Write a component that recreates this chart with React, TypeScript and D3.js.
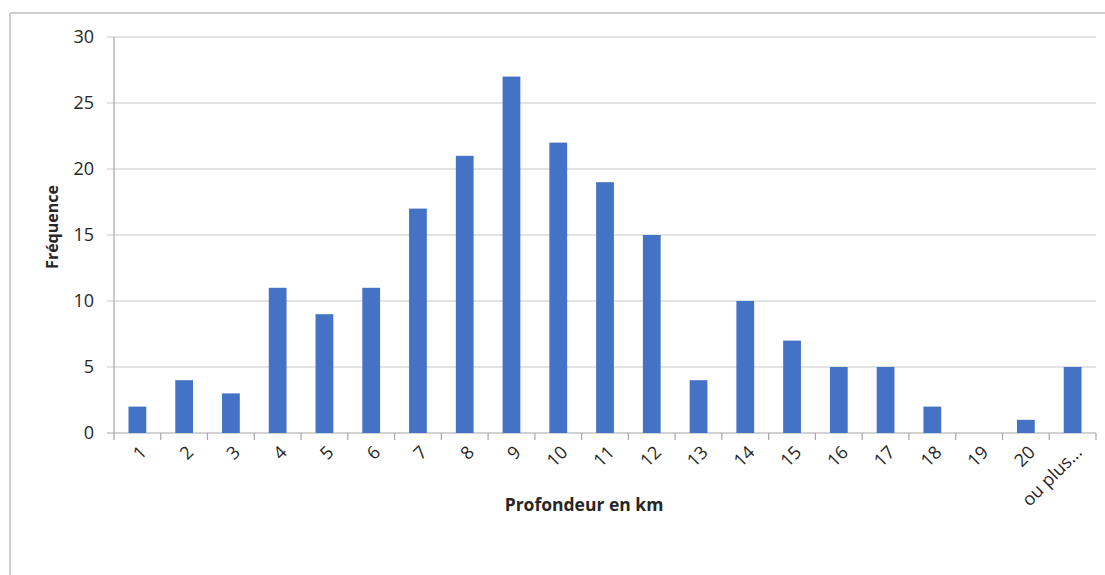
import React from "react";
import * as d3 from "d3";

const categories = ["1","2","3","4","5","6","7","8","9","10","11","12","13","14","15","16","17","18","19","20","ou plus..."];
const frequencies = [2,4,3,11,9,11,17,21,27,22,19,15,4,10,7,5,5,2,0,1,5];
const yTicks = [0,5,10,15,20,25,30];

export default function App() {
  const W = 1105, H = 575;
  const left = 114, right = 1096, top = 37, bottom = 433;
  const x = d3.scaleBand<string>().domain(categories).range([left, right]).paddingInner(0.62).paddingOuter(0.31);
  const xb = d3.scaleBand<string>().domain(categories).range([left, right]);
  const y = d3.scaleLinear().domain([0, 30]).range([bottom, top]);
  const font = "'Open Sans', 'Liberation Sans', sans-serif";
  return (
    <svg width={W} height={H} style={{ position: "absolute", left: 0, top: 0, background: "#fff" }}>
      <line x1={10} y1={13} x2={W} y2={13} stroke="#bfbfbf" strokeWidth={1.5} />
      <line x1={10} y1={13} x2={10} y2={H} stroke="#bfbfbf" strokeWidth={1.5} />
      {yTicks.map(t => (
        <g key={t}>
          <line x1={left - 7} x2={right} y1={y(t)} y2={y(t)} stroke={t === 0 ? "#a6a6a6" : "#c8c8c8"} strokeWidth={1.2} />
          <text x={94} y={y(t)} dy="0.35em" textAnchor="end" fontFamily={font} fontSize={18} fill="#262626">{t}</text>
        </g>
      ))}
      <line x1={left} x2={left} y1={top} y2={bottom} stroke="#a6a6a6" strokeWidth={1.2} />
      {categories.map((c, i) => (
        <line key={"tk" + i} x1={xb(c)! + xb.bandwidth()} x2={xb(c)! + xb.bandwidth()} y1={bottom} y2={bottom + 7} stroke="#a6a6a6" strokeWidth={1.2} />
      ))}
      <line x1={left} x2={left} y1={bottom} y2={bottom + 7} stroke="#a6a6a6" strokeWidth={1.2} />
      {categories.map((c, i) => (
        <rect key={"b" + i} x={x(c)} y={y(frequencies[i])} width={x.bandwidth()} height={bottom - y(frequencies[i])} fill="#4472C4" />
      ))}
      {categories.map((c, i) => {
        const cx = xb(c)! + xb.bandwidth() / 2 + 6;
        const cy = bottom + 16;
        return (
          <text key={"l" + i} x={cx} y={cy} transform={`rotate(-45 ${cx} ${cy})`} textAnchor="end" dy="0.35em" fontFamily={font} fontSize={18} fill="#262626">{c}</text>
        );
      })}
      <text x={584} y={511} textAnchor="middle" fontFamily={font} fontSize={17.5} fontWeight="bold" fill="#262626">Profondeur en km</text>
      <text transform={`translate(58 227) rotate(-90)`} textAnchor="middle" fontFamily={font} fontSize={16} fontWeight="bold" fill="#262626">Fréquence</text>
    </svg>
  );
}
